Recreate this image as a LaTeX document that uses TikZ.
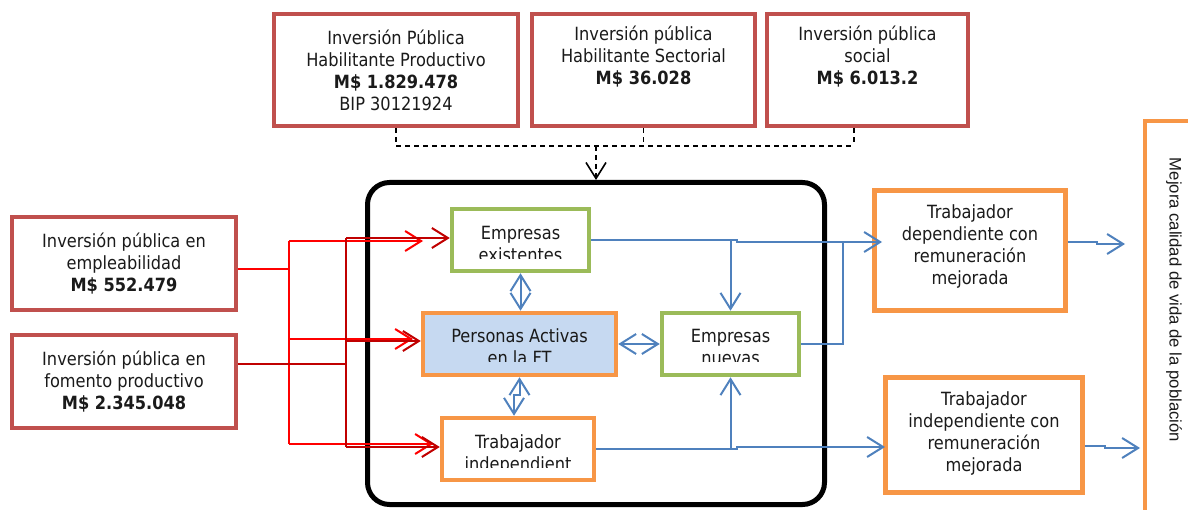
\documentclass[tikz,border=0pt]{standalone}
\usepackage{fontspec}
\setmainfont{DejaVu Sans}[FakeStretch=0.89]
\newfontfamily\arialfont{Liberation Sans}
\usetikzlibrary{arrows.meta,calc}
\definecolor{boxred}{HTML}{C0504D}
\definecolor{boxgreen}{HTML}{9BBB59}
\definecolor{boxorange}{HTML}{F79646}
\definecolor{fillblue}{HTML}{C6D9F1}
\definecolor{lineblue}{HTML}{4F81BD}
\definecolor{brightred}{HTML}{FF0000}
\definecolor{darkred}{HTML}{C00000}
\definecolor{txtcol}{HTML}{1A1A1A}
\tikzset{
  basebox/.style={draw, line width=4.5pt, fill=white, inner sep=0pt, align=center,
    text=txtcol, font=\fontsize{18.2pt}{22pt}\selectfont},
  redbox/.style={basebox, draw=boxred},
  greenbox/.style={basebox, draw=boxgreen},
  orangebox/.style={basebox, draw=boxorange},
  txt/.style={inner sep=0pt, anchor=base, text=txtcol, font=\fontsize{18.2pt}{22pt}\selectfont},
  tipb/.style={-{Straight Barb[length=16pt,width=20pt]}},
  tipbb/.style={{Straight Barb[length=16pt,width=20pt]}-{Straight Barb[length=16pt,width=20pt]}},
  bline/.style={draw=lineblue, line width=2pt},
  rbright/.style={draw=brightred, line width=2pt},
  rdark/.style={draw=darkred, line width=2pt},
  dashline/.style={draw=black, line width=1.6pt, dash pattern=on 5pt off 4pt},
}
\begin{document}
\begin{tikzpicture}[x=1pt,y=-1pt]
\useasboundingbox (0,0) rectangle (1188,510);
\clip (0,0) rectangle (1188,510);

% top boxes
\node[redbox, minimum width=244pt, minimum height=112pt] (A) at (396,70)
  {Inversión Pública\\Habilitante Productivo\\\textbf{M\$ 1.829.478}\\BIP 30121924};
\node[redbox, minimum width=223pt, minimum height=112pt] (B) at (643.5,70)
  {Inversión pública\\Habilitante Sectorial\\\textbf{M\$ 36.028}\\\strut};
\node[redbox, minimum width=201pt, minimum height=112pt] (C) at (867.5,70)
  {Inversión pública\\social\\\textbf{M\$ 6.013.2}\\\strut};

% left boxes
\node[redbox, minimum width=224pt, minimum height=93pt] (L1) at (124,263.5)
  {Inversión pública en\\empleabilidad\\\textbf{M\$ 552.479}};
\node[redbox, minimum width=224pt, minimum height=93pt] (L2) at (124,381.5)
  {Inversión pública en\\fomento productivo\\\textbf{M\$ 2.345.048}};

% big rounded box
\node[draw=black, line width=5pt, rounded corners=22pt, minimum width=457pt,
  minimum height=322pt, inner sep=0pt] (big) at (596,343.5) {};

% inner boxes
\node[greenbox, minimum width=137pt, minimum height=62pt] (EE) at (520.5,240) {};
\node[orangebox, fill=fillblue, minimum width=193pt, minimum height=62pt] (PA) at (519.5,344) {};
\node[greenbox, minimum width=137pt, minimum height=62pt] (EN) at (730.5,344) {};
\node[orangebox, minimum width=152pt, minimum height=62pt] (TI) at (518,449) {};

\begin{scope}
  \clip ($(EE.north west)+(3,3)$) rectangle (EE.east |- 0,258.6);
  \node[txt] (EEa) at (EE.center |- 0,239.3) {Empresas};
  \node[txt] (EEb) at (EE.center |- 0,261.3) {existentes};
\end{scope}
\begin{scope}
  \clip ($(PA.north west)+(3,3)$) rectangle (PA.east |- 0,361.6);
  \node[txt] (PAa) at (PA.center |- 0,342.3) {Personas Activas};
  \node[txt] (PAb) at (PA.center |- 0,364.3) {en la FT};
\end{scope}
\begin{scope}
  \clip ($(EN.north west)+(3,3)$) rectangle (EN.east |- 0,361.6);
  \node[txt] (ENa) at (EN.center |- 0,342.3) {Empresas};
  \node[txt] (ENb) at (EN.center |- 0,364.3) {nuevas};
\end{scope}
\begin{scope}
  \clip ($(TI.north west)+(3,3)$) rectangle (TI.east |- 0,467.8);
  \node[txt] (TIa) at (TI.center |- 0,448.5) {Trabajador};
  \node[txt] (TIb) at (TI.center |- 0,470.5) {independient};
\end{scope}

% right boxes
\node[orangebox, minimum width=191pt, minimum height=120pt] (Dep) at (970,250.5) {};
\node[txt] (Depa) at (970,218.5) {Trabajador};
\node[txt] (Depb) at (970,240.5) {dependiente con};
\node[txt] (Depc) at (970,262.5) {remuneración};
\node[txt] (Depd) at (970,284.5) {mejorada};
\node[orangebox, minimum width=197pt, minimum height=115pt] (Ind) at (984,435) {};
\node[txt] (Inda) at (984,405.5) {Trabajador};
\node[txt] (Indb) at (984,427.5) {independiente con};
\node[txt] (Indc) at (984,449.5) {remuneración};
\node[txt] (Indd) at (984,471.5) {mejorada};

\node[draw=boxorange, line width=4pt, anchor=north west, minimum width=100pt,
  minimum height=450pt, inner sep=0pt] (Q) at (1143,119) {};
\node[rotate=-90, inner sep=0pt, text=txtcol, font=\arialfont\fontsize{16.7pt}{20pt}\selectfont] (Qt)
  at (1174,300) {Mejora calidad de vida de la población};

% dashed connector
\draw[dashline] (A.south) -- (A.south |- 0,146) -- (854,146);
\draw[dashline] (B.south) -- (B.south |- 0,146);
\draw[dashline] (C.south -| 854,0) -- (854,146);
\draw[dashline, tipb] (big.north |- 0,146) -- (big.north);

% red connectors (empleabilidad)
\coordinate (r0) at (289,269);
\coordinate (r1) at (289,241);
\coordinate (r2) at (289,339);
\coordinate (r3) at (289,444);
\draw[rbright] (L1.east |- r0) -- (r0);
\draw[rbright] (r1) -- (r3);
\draw[rbright, tipb] (r1) -- (423,241);
\draw[rbright, tipb] (r2) -- (413,339);
\draw[rbright, tipb] (r3) -- (433,444);

% red connectors (fomento)
\coordinate (d0) at (346,364);
\coordinate (d1) at (346,238);
\coordinate (d2) at (346,341);
\coordinate (d3) at (346,447);
\draw[rdark] (L2.east |- d0) -- (d0);
\draw[rdark] (d1) -- (d3);
\draw[rdark, tipb] (d1) -- (EE.west |- d1);
\draw[rdark, tipb] (d2) -- (PA.west |- d2);
\draw[rdark, tipb] (d3) -- (TI.west |- d3);

% blue connectors
\coordinate (tdep) at (882,242);
\coordinate (tind) at (885,447);
\coordinate (q1) at (1125,244);
\coordinate (q2) at (1140,448);
\draw[bline, tipb] (EE.east) -- (737,240) -- (737,242) -- (tdep);
\draw[bline, tipb] (EE.east -| EN.north) -- (EN.north);
\draw[bline] (EN.east) -- (843,344) -- (843,242);
\draw[bline, tipb] (TI.east) -- (737,449) -- (737,447) -- (tind);
\draw[bline, tipb] (TI.east -| EN.south) -- (EN.south);
\draw[bline, tipbb] (PA.east) -- (EN.west);
\draw[bline, tipbb] (EE.south) -- (EE.south |- PA.north);
\draw[bline, tipbb] (PA.south) -- ++(0,18) -| ([xshift=-4pt]TI.north);
\draw[bline, tipb] (Dep.east |- 0,242) -- (1097,242) -- (1097,244) -- (q1);
\draw[bline, tipb] (Ind.east |- 0,446) -- (1105,446) -- (1105,448) -- (q2);
\end{tikzpicture}
\end{document}
